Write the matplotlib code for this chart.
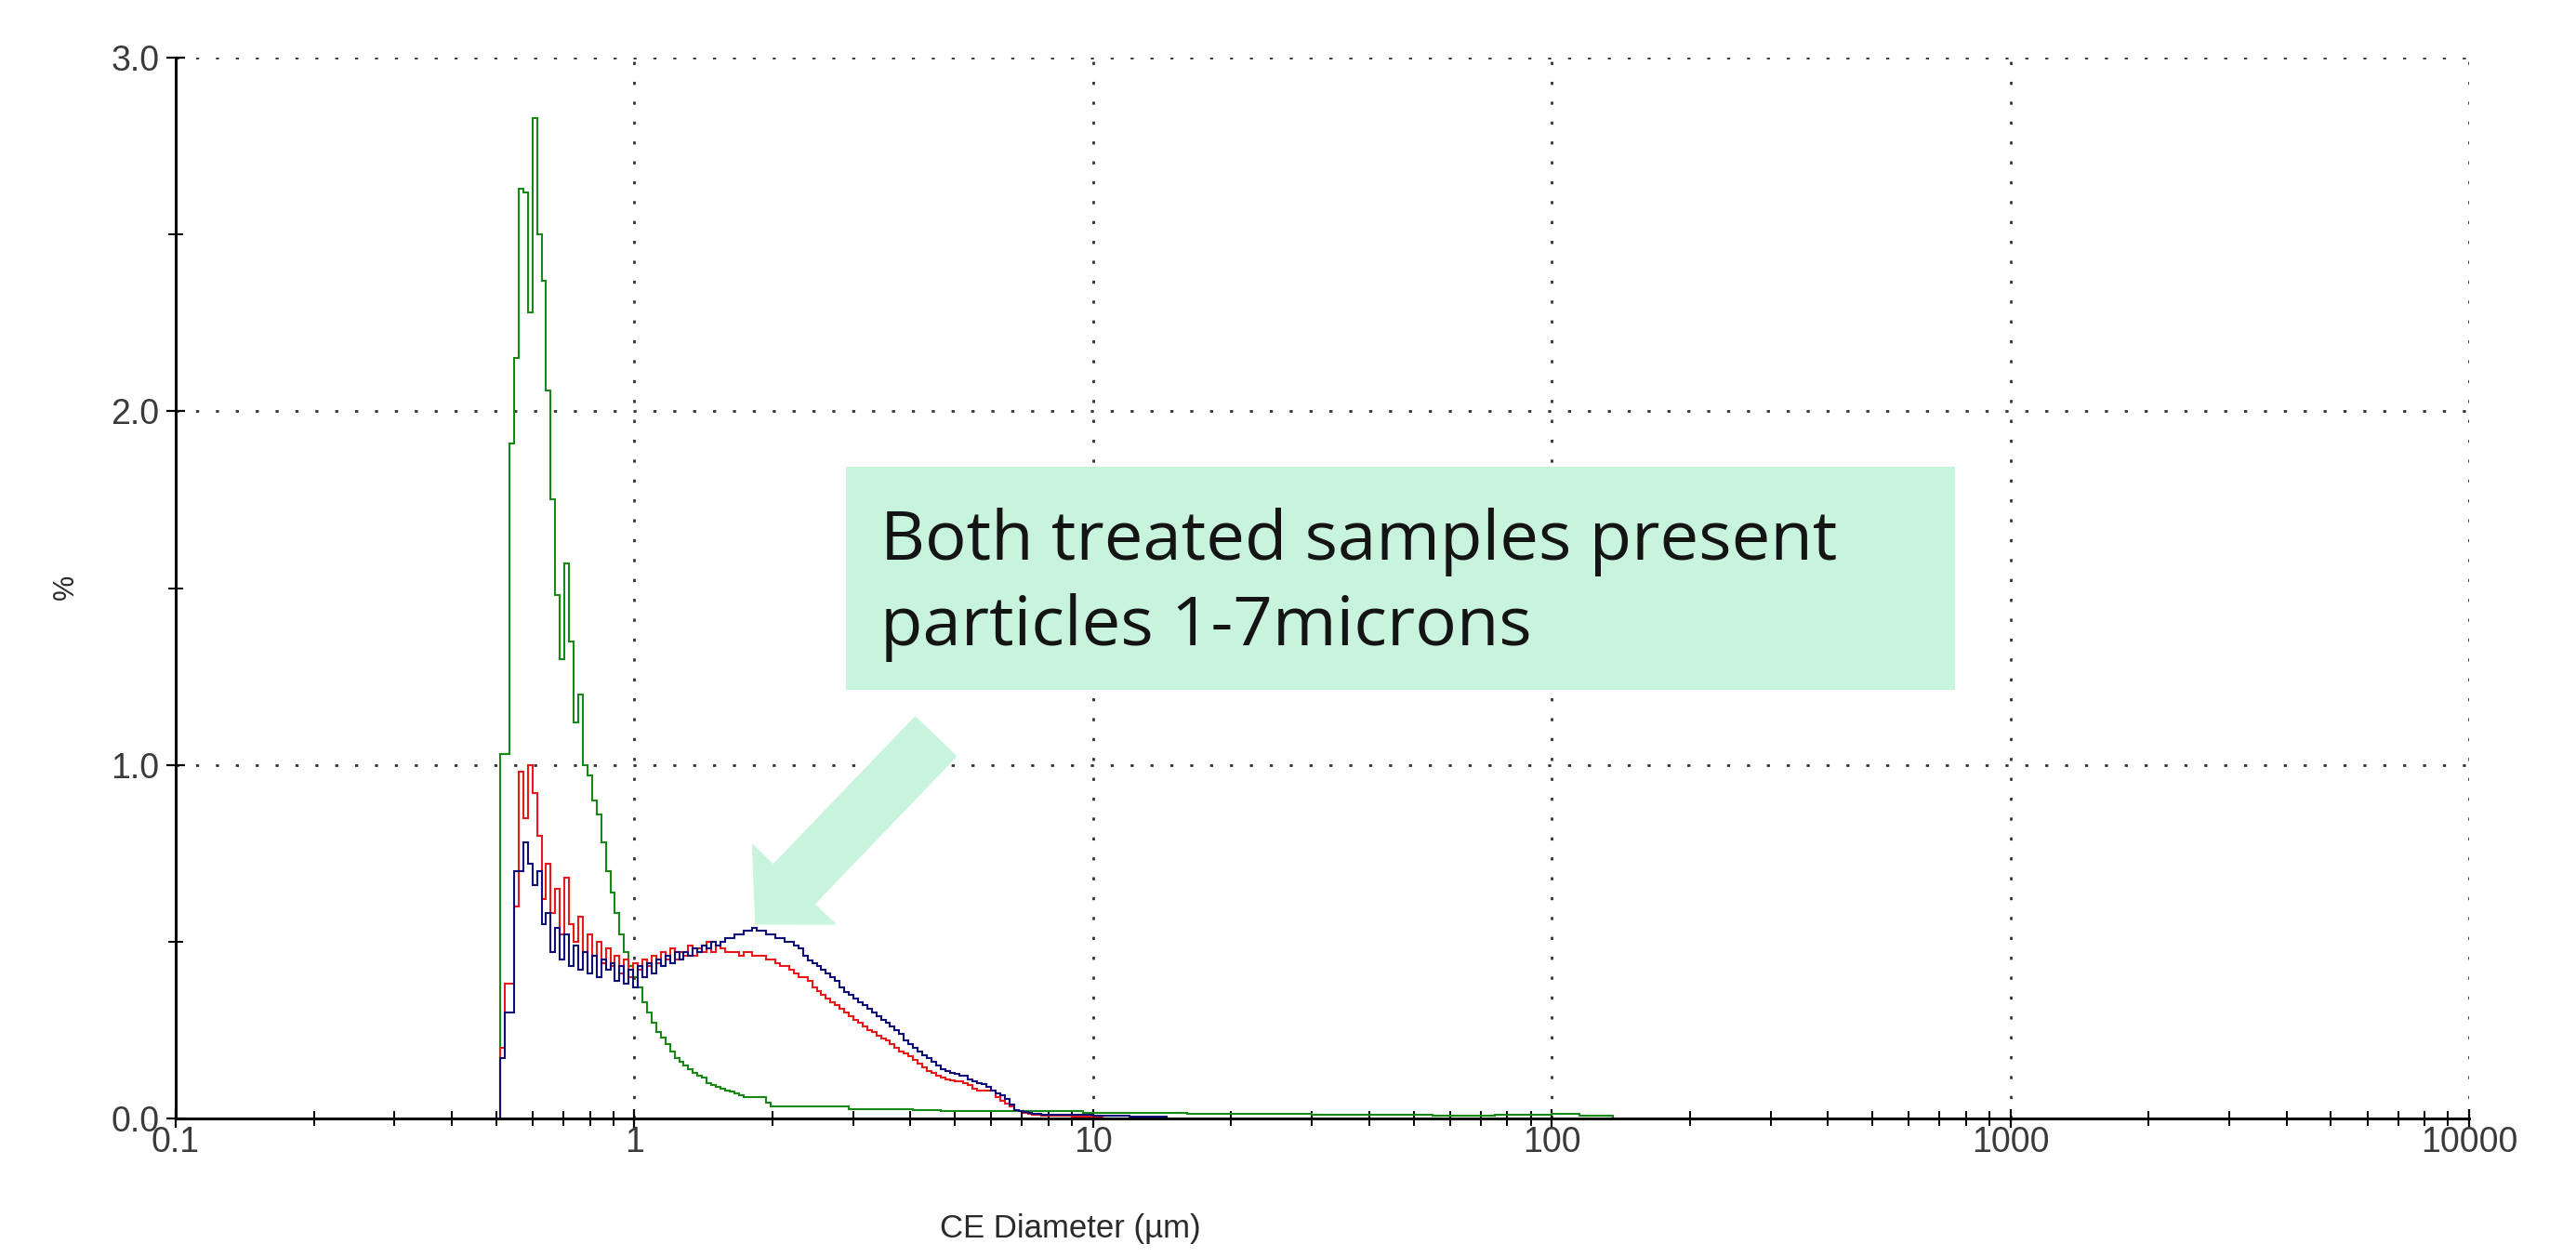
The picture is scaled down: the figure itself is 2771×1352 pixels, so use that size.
import numpy as np
import matplotlib.pyplot as plt
from matplotlib.patches import Rectangle, FancyArrowPatch
from matplotlib.ticker import FixedLocator, NullFormatter

# size classes: 100 log bins per decade starting at 0.51 um
start_um = 0.51
per_decade = 100

# % per bin (bins 0..117, up to ~7.7 um)
green = [1.03, 1.03, 1.91, 2.15, 2.63, 2.62, 2.28, 2.83, 2.50, 2.37,
         2.06, 1.75, 1.48, 1.30, 1.57, 1.35, 1.12, 1.20, 1.00, 0.97,
         0.90, 0.86, 0.78, 0.70, 0.64, 0.58, 0.52, 0.47, 0.43, 0.40,
         0.37, 0.33, 0.30, 0.27, 0.245, 0.23, 0.21, 0.19, 0.17, 0.16,
         0.15, 0.14, 0.13, 0.12, 0.115, 0.10, 0.095, 0.09, 0.085, 0.08,
         0.075, 0.07, 0.065, 0.06, 0.06, 0.06, 0.06, 0.06, 0.045, 0.034,
         0.034, 0.034, 0.034, 0.034, 0.034, 0.034, 0.034, 0.034, 0.034, 0.034,
         0.034, 0.034, 0.034, 0.034, 0.034, 0.034, 0.026, 0.026, 0.026, 0.026,
         0.026, 0.026, 0.026, 0.026, 0.026, 0.026, 0.026, 0.026, 0.026, 0.026,
         0.024, 0.024, 0.024, 0.024, 0.024, 0.024, 0.022, 0.022, 0.022, 0.022,
         0.022, 0.022, 0.022, 0.022, 0.022, 0.022, 0.022, 0.022, 0.02, 0.02,
         0.02, 0.02, 0.02, 0.02, 0.02, 0.02, 0.02, 0.02]
red = [0.20, 0.38, 0.38, 0.60, 0.98, 0.85, 1.00, 0.92, 0.80, 0.62,
       0.72, 0.58, 0.65, 0.52, 0.68, 0.55, 0.50, 0.57, 0.47, 0.52,
       0.46, 0.50, 0.44, 0.48, 0.43, 0.46, 0.41, 0.45, 0.40, 0.44,
       0.42, 0.45, 0.43, 0.46, 0.44, 0.47, 0.45, 0.48, 0.45, 0.47,
       0.46, 0.49, 0.46, 0.48, 0.47, 0.50, 0.47, 0.49, 0.48, 0.47,
       0.47, 0.47, 0.46, 0.47, 0.47, 0.46, 0.46, 0.46, 0.45, 0.45,
       0.44, 0.43, 0.43, 0.42, 0.41, 0.40, 0.40, 0.39, 0.37, 0.36,
       0.35, 0.34, 0.33, 0.32, 0.31, 0.30, 0.29, 0.28, 0.27, 0.26,
       0.25, 0.245, 0.235, 0.227, 0.22, 0.21, 0.20, 0.19, 0.183, 0.175,
       0.165, 0.155, 0.145, 0.135, 0.128, 0.12, 0.115, 0.11, 0.108, 0.105,
       0.105, 0.10, 0.095, 0.085, 0.078, 0.078, 0.078, 0.078, 0.06, 0.05,
       0.042, 0.035, 0.025, 0.02, 0.015, 0.012, 0.01, 0.01]
blue = [0.17, 0.30, 0.30, 0.70, 0.70, 0.78, 0.72, 0.66, 0.70, 0.55,
        0.58, 0.47, 0.54, 0.45, 0.52, 0.43, 0.49, 0.42, 0.47, 0.41,
        0.46, 0.40, 0.45, 0.42, 0.44, 0.39, 0.43, 0.38, 0.42, 0.37,
        0.43, 0.40, 0.44, 0.41, 0.45, 0.43, 0.46, 0.44, 0.47, 0.45,
        0.47, 0.46, 0.48, 0.47, 0.49, 0.48, 0.50, 0.49, 0.50, 0.51,
        0.51, 0.52, 0.52, 0.53, 0.53, 0.54, 0.53, 0.53, 0.52, 0.52,
        0.51, 0.51, 0.50, 0.50, 0.49, 0.48, 0.46, 0.446, 0.44, 0.43,
        0.42, 0.41, 0.40, 0.39, 0.37, 0.358, 0.35, 0.34, 0.33, 0.32,
        0.31, 0.30, 0.29, 0.28, 0.27, 0.26, 0.25, 0.24, 0.22, 0.21,
        0.20, 0.19, 0.18, 0.17, 0.16, 0.15, 0.14, 0.135, 0.13, 0.125,
        0.12, 0.12, 0.11, 0.105, 0.10, 0.096, 0.09, 0.08, 0.07, 0.065,
        0.055, 0.04, 0.025, 0.02, 0.018, 0.015, 0.012, 0.012]

# coarser tails beyond the fine bins (upper edges in um)
green_tail_edges = [9.5, 12, 16, 22, 30, 40, 55, 75, 100, 115, 136]
green_tail = [0.02, 0.015, 0.015, 0.012, 0.012, 0.01, 0.01, 0.008, 0.01, 0.012, 0.008]
red_tail_edges = [9.0, 10.5]
red_tail = [0.008, 0.005]
blue_tail_edges = [10.0, 12.0, 14.5]
blue_tail = [0.01, 0.008, 0.005]

x_ticks = [0.1, 1, 10, 100, 1000, 10000]
x_tick_labels = ['0.1', '1', '10', '100', '1000', '10000']
y_ticks = [0.0, 1.0, 2.0, 3.0]
y_tick_labels = ['0.0', '1.0', '2.0', '3.0']
y_minor = [0.5, 1.5, 2.5]

note = 'Both treated samples present\nparticles 1-7microns'


def series_edges(n_fine, tail_edges):
    fine = start_um * 10 ** (np.arange(n_fine + 1) / per_decade)
    return np.concatenate([fine, tail_edges])


plt.rcParams['font.family'] = ['Liberation Sans', 'DejaVu Sans']

fig = plt.figure(figsize=(27.71, 13.52), dpi=100)
ax = fig.add_axes([0.0682, 0.1102, 0.8903, 0.8439])

for vals, tail_e, tail_v, col in [(green, green_tail_edges, green_tail, '#148a14'),
                                  (red, red_tail_edges, red_tail, '#e81818'),
                                  (blue, blue_tail_edges, blue_tail, '#0c0c7a')]:
    e = series_edges(len(vals), tail_e)
    v = np.concatenate([vals, tail_v])
    ax.stairs(v, e, baseline=0, color=col, lw=1.5, zorder=3)

ax.set_xscale('log')
ax.set_xlim(0.1, 10000)
ax.set_ylim(0, 3)
ax.set_xticks(x_ticks, x_tick_labels)
ax.set_yticks(y_ticks, y_tick_labels)
ax.yaxis.set_minor_locator(FixedLocator(y_minor))
ax.xaxis.set_minor_formatter(NullFormatter())

ax.grid(True, which='major', linestyle=(0, (1.2, 6.5)), color='#333333', lw=2.0, zorder=1)
for s in ['top', 'right']:
    ax.spines[s].set_visible(False)
for s in ['left', 'bottom']:
    ax.spines[s].set_linewidth(2.2)
    ax.spines[s].set_zorder(5)

ax.tick_params(which='major', direction='inout', length=15, width=1.6,
               labelsize=27, labelcolor='#3a3a3a')
ax.tick_params(axis='x', which='major', pad=-2)
ax.tick_params(axis='y', which='major', pad=5)
ax.tick_params(which='minor', direction='inout', length=12, width=1.4)

fig.text(1151 / 2771, 1 - 1322 / 1352, 'CE Diameter (µm)', ha='center', va='center',
         fontsize=25, color='#2a2a2a')
fig.text(71 / 2771, 1 - 631 / 1352, '%', ha='center', va='center', rotation=90,
         fontsize=22, color='#2a2a2a')

# callout box and block arrow
box = Rectangle((910 / 2771, 1 - 742 / 1352), 1193 / 2771, 240 / 1352,
                transform=fig.transFigure, facecolor='#c8f4de', edgecolor='none', zorder=4)
ax.add_patch(box)
box.set_clip_on(False)
fig.text(947 / 2771, 1 - 546 / 1352, note, ha='left', va='top', fontsize=53.5,
         family=['Open Sans', 'DejaVu Sans'], color='#141414', linespacing=1.33, zorder=6)

arrow = FancyArrowPatch((4.54, 1.08), (1.84, 0.55),
                        arrowstyle='simple,head_length=42.5,head_width=88.6,tail_width=44',
                        mutation_scale=1, color='#c8f4de', shrinkA=0, shrinkB=0, zorder=4)
ax.add_patch(arrow)

fig.savefig('out.png', dpi=100, facecolor='white')
